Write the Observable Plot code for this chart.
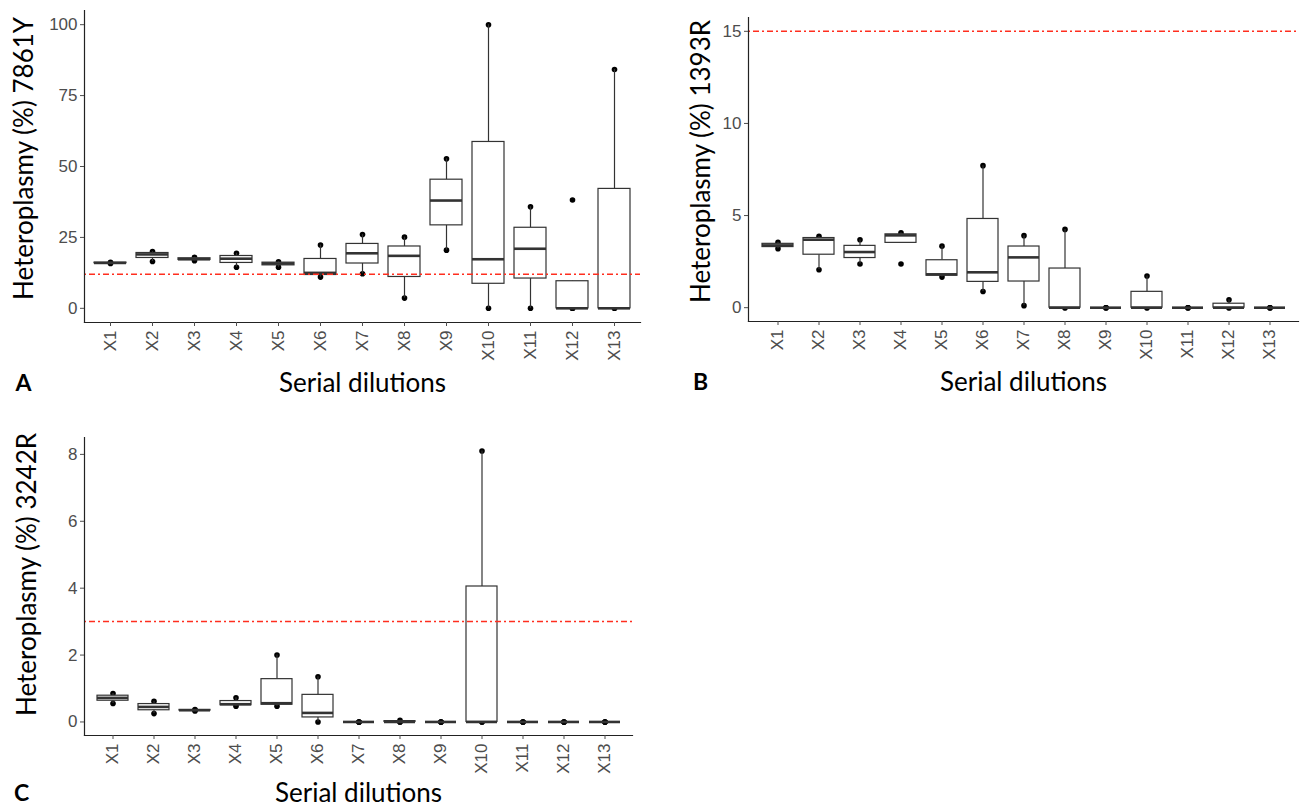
<!DOCTYPE html>
<html>
<head>
<meta charset="utf-8">
<script src="https://cdn.jsdelivr.net/npm/d3@7"></script>
<script src="https://cdn.jsdelivr.net/npm/@observablehq/plot@0.6"></script>
<style>
  html, body { margin: 0; padding: 0; background: #fff; }
  #wrap { position: relative; width: 1302px; height: 808px; overflow: hidden; }
  .panel { position: absolute; }
</style>
</head>
<body>
<div id="wrap">
  <div class="panel" id="pA" style="left:0px; top:0px;"></div>
  <div class="panel" id="pB" style="left:650px; top:0px;"></div>
  <div class="panel" id="pC" style="left:0px; top:420px;"></div>
</div>
<script>
// ---- data ----
const categories = ["X1","X2","X3","X4","X5","X6","X7","X8","X9","X10","X11","X12","X13"];

// Panel A: 7861Y replicate heteroplasmy values (%)
const valuesA = [
  [15.8, 16.0, 16.2],
  [16.5, 19.0, 20.0],
  [16.8, 17.3, 18.0],
  [14.5, 17.5, 19.4],
  [14.5, 15.8, 16.4],
  [11.0, 12.5, 22.3],
  [12.2, 19.4, 26.0],
  [3.6, 18.5, 25.1],
  [20.5, 38.0, 52.7],
  [0, 17.3, 100],
  [0, 21.0, 35.8],
  [0, 0, 0, 38.2],
  [0, 0, 84.2]
];
// Panel B: 1393R
const valuesB = [
  [3.2, 3.38, 3.55],
  [2.06, 3.69, 3.87],
  [2.37, 3.02, 3.69],
  [2.37, 3.9, 3.95, 4.07],
  [1.66, 1.81, 3.34],
  [0.88, 1.92, 7.71],
  [0.11, 2.73, 3.91],
  [0, 0, 4.25],
  [0, 0, 0],
  [0, 0, 1.72],
  [0, 0, 0],
  [0, 0, 0.43],
  [0, 0, 0]
];
// Panel C: 3242R
const valuesC = [
  [0.55, 0.72, 0.85],
  [0.25, 0.45, 0.62],
  [0.33, 0.35, 0.37],
  [0.47, 0.53, 0.72],
  [0.47, 0.56, 2.0],
  [0, 0.27, 1.35],
  [0, 0, 0],
  [0, 0, 0.05],
  [0, 0, 0],
  [0, 0, 8.1],
  [0, 0, 0],
  [0, 0, 0],
  [0, 0, 0]
];

const thresholdA = 12;
const thresholdB = 15;
const thresholdC = 3;

const yTicksA = [0, 25, 50, 75, 100];
const yTicksB = [0, 5, 10, 15];
const yTicksC = [0, 2, 4, 6, 8];

const yLabelA = "Heteroplasmy (%) 7861Y";
const yLabelB = "Heteroplasmy (%) 1393R";
const yLabelC = "Heteroplasmy (%) 3242R";
const xLabel = "Serial dilutions";

// ---- helpers ----
function toRows(values) {
  return categories.flatMap((g, i) => values[i].map(v => ({g, v})));
}
function stats(I, X) {
  const v = Array.from(I, i => X[i]).sort(d3.ascending);
  const q1 = d3.quantile(v, 0.25), q3 = d3.quantile(v, 0.75);
  const iqr = q3 - q1;
  return {v, q1, q3, lo: q1 - 1.5 * iqr, hi: q3 + 1.5 * iqr};
}
const hiWhisker = {reduceIndex(I, X) { const s = stats(I, X); return d3.max(s.v.filter(x => x <= s.hi)); }};
const loWhisker = {reduceIndex(I, X) { const s = stats(I, X); return d3.min(s.v.filter(x => x >= s.lo)); }};

const boxStroke = "#333333";
const tickFont = "'Liberation Sans', Arial, sans-serif";
const titleFont = "Lato, 'Open Sans', sans-serif";

function panel(o) {
  const data = toRows(o.values);
  return Plot.plot({
    width: o.width, height: o.height,
    marginLeft: o.ml, marginRight: o.mr, marginTop: o.mt, marginBottom: o.mb,
    style: {fontFamily: tickFont, background: "white", overflow: "visible"},
    x: {type: "band", domain: categories, paddingInner: 0.25, paddingOuter: 0.225, axis: null},
    y: {domain: o.yDomain, axis: null},
    marks: [
      Plot.dot(data, {x: "g", y: "v", fill: "black", r: 2.8}),
      Plot.ruleX(data, Plot.groupX({y1: "p75", y2: hiWhisker}, {x: "g", y: "v", stroke: boxStroke, strokeWidth: 1.2})),
      Plot.ruleX(data, Plot.groupX({y1: loWhisker, y2: "p25"}, {x: "g", y: "v", stroke: boxStroke, strokeWidth: 1.2})),
      Plot.barY(data, Plot.groupX({y1: "p25", y2: "p75"}, {x: "g", y: "v", fill: "white", stroke: boxStroke, strokeWidth: 1.2})),
      Plot.tickY(data, Plot.groupX({y: "p50"}, {x: "g", y: "v", stroke: boxStroke, strokeWidth: 2.6})),
      Plot.ruleY([o.threshold], {stroke: "#ff2e1f", strokeWidth: 1.5, strokeDasharray: "2,3,6,3"}),
      Plot.frame({anchor: "left", stroke: "#222", strokeWidth: 1.2}),
      Plot.frame({anchor: "bottom", stroke: "#222", strokeWidth: 1.2}),
      Plot.axisY({ticks: o.yTicks, tickSize: 4, tickPadding: 3, fontSize: 17, fontFamily: tickFont, color: "#4d4d4d", label: null}),
      Plot.axisX({tickRotate: -90, tickSize: 4, tickPadding: 4, fontSize: 17, fontFamily: tickFont, color: "#4d4d4d", label: null}),
      Plot.text([o.yLabel], {text: d => d, frameAnchor: "left", dx: o.ylx, dy: o.yly, rotate: -90, textAnchor: "middle", lineAnchor: "middle", fontSize: 26, fontFamily: titleFont, fill: "black"}),
      Plot.text([xLabel], {text: d => d, frameAnchor: "bottom", dy: o.xly, textAnchor: "middle", lineAnchor: "middle", fontSize: 26, fontFamily: titleFont, fill: "black"}),
      Plot.text([o.letter], {text: d => d, frameAnchor: "bottom-left", dx: o.ltx, dy: o.xly, textAnchor: "middle", lineAnchor: "middle", fontSize: 23, fontWeight: "bold", fontFamily: titleFont, fill: "black"})
    ]
  });
}

document.getElementById("pA").append(panel({
  values: valuesA, threshold: thresholdA, yTicks: yTicksA, yDomain: [-5, 105], yLabel: yLabelA, letter: "A",
  width: 650, height: 400, ml: 84, mr: 10, mt: 10, mb: 78, ylx: -60, yly: -8, xly: 61, ltx: -61
}));
document.getElementById("pB").append(panel({
  values: valuesB, threshold: thresholdB, yTicks: yTicksB, yDomain: [-0.75, 15.75], yLabel: yLabelB, letter: "B",
  width: 652, height: 400, ml: 98, mr: 4, mt: 17, mb: 79, ylx: -47, yly: -8, xly: 61, ltx: -48
}));
document.getElementById("pC").append(panel({
  values: valuesC, threshold: thresholdC, yTicks: yTicksC, yDomain: [-0.405, 8.505], yLabel: yLabelC, letter: "C",
  width: 650, height: 388, ml: 84, mr: 18, mt: 17, mb: 73, ylx: -57, yly: -12, xly: 58, ltx: -63
}));
</script>
</body>
</html>
